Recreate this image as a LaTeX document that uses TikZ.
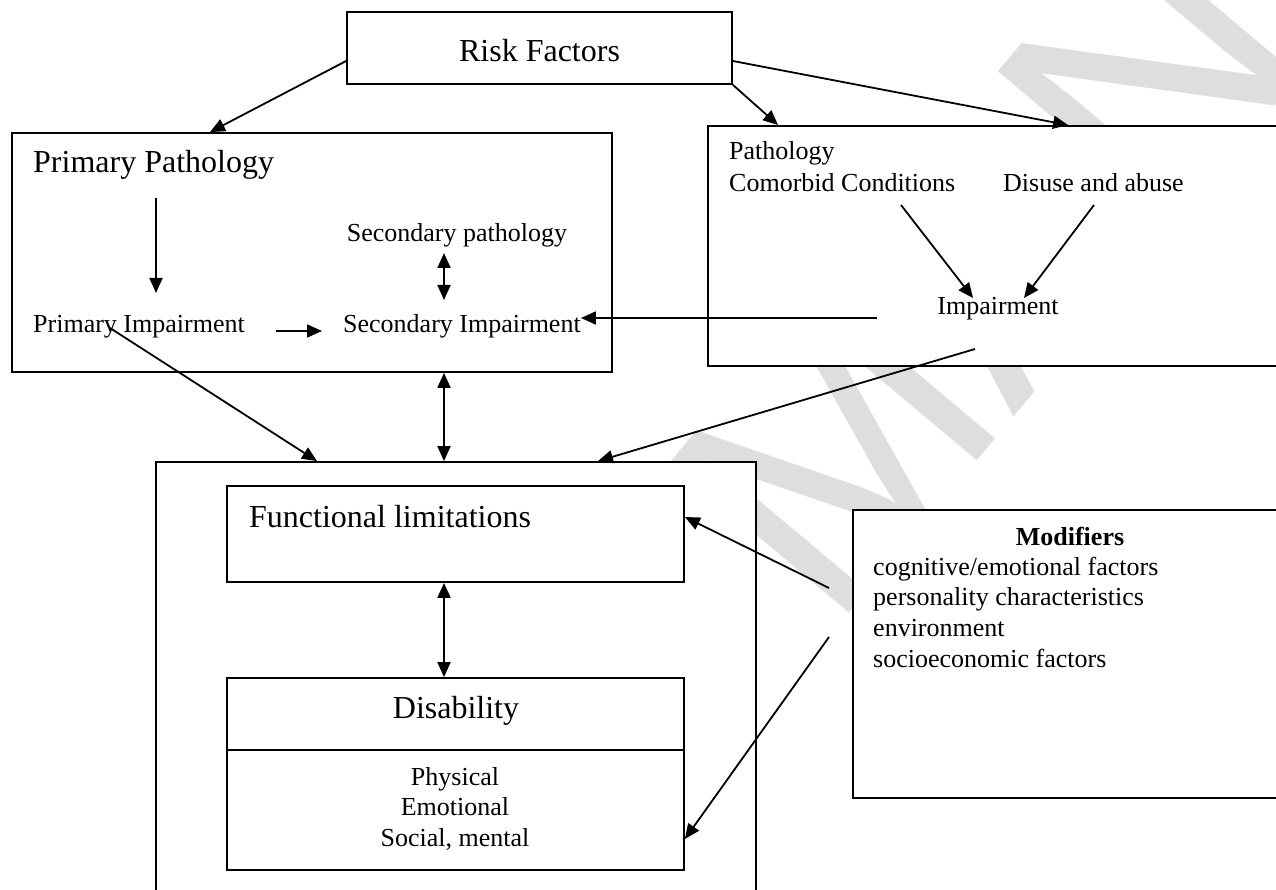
\documentclass[tikz,border=0pt]{standalone}
\usepackage{fontspec}
\setmainfont{Liberation Serif}
\newfontfamily\wmfont{Liberation Sans}
\usetikzlibrary{arrows.meta}
\begin{document}
\begin{tikzpicture}[x=1pt,y=-1pt,
  box/.style={draw, fill=white, line width=1.8pt, rectangle, inner sep=0pt},
  arr/.style={line width=1.8pt, -{Triangle[length=15pt,width=13pt]}},
  darr/.style={line width=1.8pt, {Triangle[length=15pt,width=13pt]}-{Triangle[length=15pt,width=13pt]}},
  big/.style={font=\fontsize{32}{38}\selectfont, inner sep=0pt},
  med/.style={font=\fontsize{26}{31}\selectfont, inner sep=0pt},
]
\useasboundingbox (0,0) rectangle (1276,890);
\clip (0,0) rectangle (1276,890);

% watermark (behind the boxes)
\node[rotate=50, text=black!13, inner sep=0pt, font=\wmfont\fontsize{340}{340}\selectfont] (wm) at (985,270) {MAN};

% boxes
\node[box, minimum width=385pt, minimum height=72pt] (risk) at (539.5,48) {};
\node[box, minimum width=600pt, minimum height=239pt] (pp) at (312,252.5) {};
\node[box, minimum width=592pt, minimum height=240pt] (rb) at (1004,246) {};
\node[box, minimum width=600pt, minimum height=448pt] (low) at (456,686) {};
\node[box, minimum width=457pt, minimum height=96pt] (fl) at (455.5,534) {};
\node[box, minimum width=457pt, minimum height=72pt] (dis) at (455.5,714) {};
\node[box, minimum width=457pt, minimum height=120pt] (disb) at (455.5,810) {};
\node[box, minimum width=447pt, minimum height=288pt] (mod) at (1076.5,654) {};

% texts
\node[big, anchor=base] (riskt) at (539.5,62) {Risk Factors};
\node[big, anchor=base west] (ppt) at (33,173) {Primary Pathology};
\node[med, anchor=base] (spt) at (457,242) {Secondary pathology};
\node[med, anchor=base west] (pit) at (33,333) {Primary Impairment};
\node[med, anchor=base west] (sit) at (343,333) {Secondary Impairment};
\node[med, anchor=base west] (patht) at (729,160) {Pathology};
\node[med, anchor=base west] (comt) at (729,192) {Comorbid Conditions};
\node[med, anchor=base west] (dist) at (1003,192) {Disuse and abuse};
\node[med, anchor=base] (impt) at (998,315) {Impairment};
\node[big, anchor=base west] (flt) at (249,527) {Functional limitations};
\node[big, anchor=base] (dbt) at (456,718) {Disability};
\node[med, anchor=base] (phys) at (455,785) {Physical};
\node[med, anchor=base] (emo) at (455,815) {Emotional};
\node[med, anchor=base] (soc) at (455,846) {Social, mental};
\node[med, anchor=base, font=\fontsize{26}{31}\selectfont\bfseries] (modt) at (1070,545) {Modifiers};
\node[med, anchor=base west] (m1) at (873,575) {cognitive/emotional factors};
\node[med, anchor=base west] (m2) at (873,605) {personality characteristics};
\node[med, anchor=base west] (m3) at (873,636) {environment};
\node[med, anchor=base west] (m4) at (873,667) {socioeconomic factors};

% free connector ends
\coordinate (ppA) at (156,198);
\coordinate (ppB) at (156,293);
\coordinate (spA) at (444,253);
\coordinate (spB) at (444,300);
\coordinate (piA) at (276,331);
\coordinate (piB) at (322,331);
\coordinate (piC) at (110,328);
\coordinate (impA) at (877,318);
\coordinate (impB) at (975,349);
\coordinate (ccA) at (901,205);
\coordinate (ccB) at (973,298);
\coordinate (daA) at (1094,205);
\coordinate (daB) at (1024,298);
\coordinate (moA) at (829,588);
\coordinate (moB) at (829,637);

% connectors
\draw[arr] ([yshift=-13pt]risk.west) -- ([xshift=-102pt]pp.north);
\draw[arr] (risk.south east) -- ([xshift=71pt]rb.north west);
\draw[arr] ([yshift=-13pt]risk.east) -- ([xshift=361pt]rb.north west);
\draw[arr] (ppA) -- (ppB);
\draw[darr] (spA) -- (spB);
\draw[arr] (piA) -- (piB);
\draw[arr] (impA) -- (sit.east |- impA);
\draw[arr] (piC) -- ([xshift=-139pt]low.north);
\draw[darr] (pp.south -| spA) -- (low.north -| spA);
\draw[arr] (impB) -- ([xshift=142pt]low.north);
\draw[arr] (ccA) -- (ccB);
\draw[arr] (daA) -- (daB);
\draw[darr] (fl.south -| spA) -- (dis.north -| spA);
\draw[arr] (moA) -- ([yshift=17pt]fl.east);
\draw[arr] (moB) -- ([yshift=-29pt]disb.east);
\end{tikzpicture}
\end{document}
